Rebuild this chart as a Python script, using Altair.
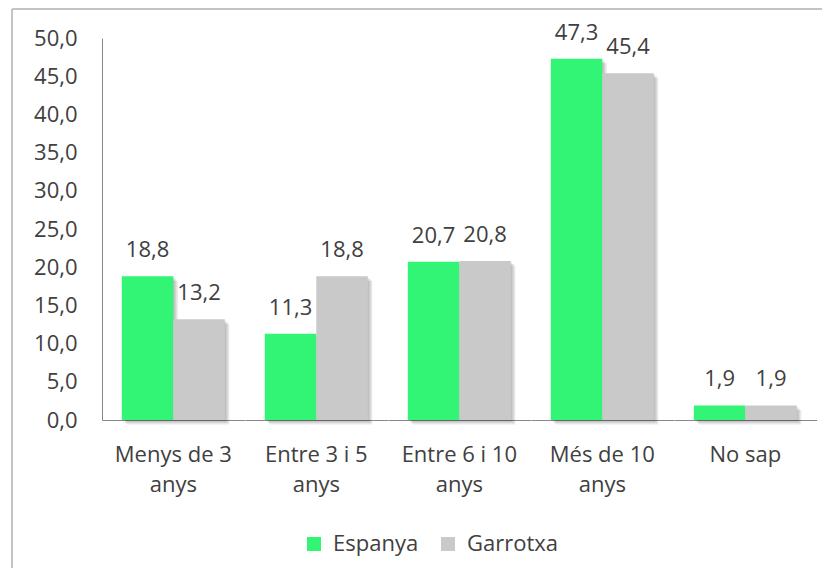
import altair as alt
import pandas as pd

categories = ["Menys de 3 anys", "Entre 3 i 5 anys", "Entre 6 i 10 anys", "Més de 10 anys", "No sap"]
series_names = ["Espanya", "Garrotxa"]
espanya = [18.8, 11.3, 20.7, 47.3, 1.9]
garrotxa = [13.2, 18.8, 20.8, 45.4, 1.9]
y_ticks = [0, 5, 10, 15, 20, 25, 30, 35, 40, 45, 50]
colors = ["#33F575", "#C9C9C9"]

rows = []
for c, e, g in zip(categories, espanya, garrotxa):
    rows.append({"cat": c, "series": series_names[0], "value": e})
    rows.append({"cat": c, "series": series_names[1], "value": g})
df = pd.DataFrame(rows)
df["label"] = df["value"].map(lambda v: f"{v:.1f}".replace(".", ","))

FONT = "Open Sans"
TXT = "#404040"
FS = 22

x = alt.X("series:N", sort=series_names,
          scale=alt.Scale(domain=series_names, paddingInner=0, paddingOuter=0.385),
          axis=alt.Axis(title=None, labels=False, ticks=False, grid=False,
                        domainColor="#888888", domainWidth=1))
y = alt.Y("value:Q", scale=alt.Scale(domain=[0, 50], nice=False),
          axis=alt.Axis(title=None, values=y_ticks, ticks=False, grid=False,
                        labelExpr="replace(format(datum.value, '.1f'), '.', ',')",
                        domainColor="#888888", domainWidth=1, labelPadding=25,
                        labelFontSize=FS, labelFont=FONT, labelColor=TXT))
color = alt.Color("series:N", sort=series_names,
                  scale=alt.Scale(domain=series_names, range=colors),
                  legend=alt.Legend(title=None, orient="none", legendX=201, legendY=495,
                                    direction="horizontal", symbolType="square",
                                    symbolSize=196, symbolStrokeWidth=0,
                                    labelFontSize=FS, labelFont=FONT, labelColor=TXT,
                                    labelOffset=8, columnPadding=18, padding=0))

base = alt.Chart(df)

first = base.transform_filter(
    (alt.datum.cat == categories[0]) & (alt.datum.series == series_names[0]))
border_top = first.mark_rule(color="#C4C4C4", strokeWidth=2).encode(
    x=alt.value(-90), x2=alt.value(720), y=alt.value(-29))
border_left = first.mark_rule(color="#C4C4C4", strokeWidth=2).encode(
    x=alt.value(-90), y=alt.value(-29), y2=alt.value(530))

shadows = [
    base.mark_bar(color="#000000", opacity=0.09, xOffset=o, yOffset=o, y2Offset=o).encode(x=x, y=y)
    for o in (1.5, 3.0, 4.5)
]
bars = base.mark_bar().encode(x=x, y=y, color=color)
text = base.mark_text(baseline="alphabetic", dy=-19, fontSize=FS, font=FONT, color=TXT).encode(
    x=x, y=y, text="label:N")

layered = alt.layer(border_top, border_left, *shadows, bars, text).properties(width=142.6, height=382)

chart = layered.facet(
    column=alt.Column("cat:N", sort=categories, title=None,
                      header=alt.Header(title=None, labelOrient="bottom",
                                        labelExpr="indexof(datum.value, ' anys') > 0 ? [replace(datum.value, ' anys', ''), 'anys'] : datum.value",
                                        labelFont=FONT, labelFontSize=FS, labelColor=TXT,
                                        labelPadding=25, labelLineHeight=30)),
    spacing=0,
    bounds="flush",
).properties(
    padding={"left": 3, "top": 0, "right": 0, "bottom": 0},
    autosize=alt.AutoSizeParams(type="pad"),
    background="white",
).configure_view(stroke=None)

chart.save("out.html", embed_options={"renderer": "svg", "actions": False})
